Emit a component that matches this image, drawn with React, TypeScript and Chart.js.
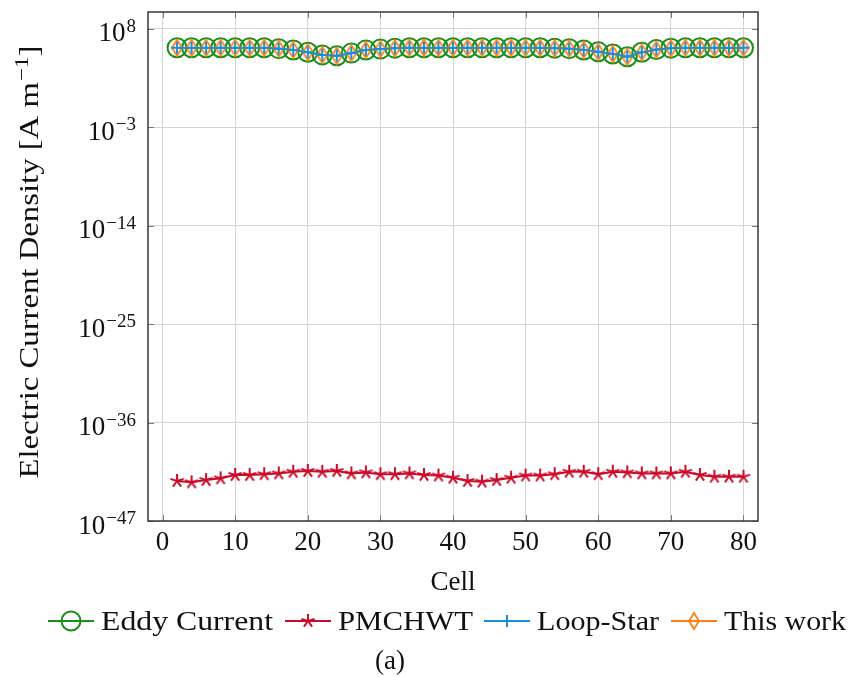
import React, { useEffect, useRef } from "react";
import { Chart, registerables } from "chart.js";

Chart.register(...registerables);

const cells = [2, 4, 6, 8, 10, 12, 14, 16, 18, 20, 22, 24, 26, 28, 30, 32, 34, 36, 38, 40, 42, 44, 46, 48, 50, 52, 54, 56, 58, 60, 62, 64, 66, 68, 70, 72, 74, 76, 78, 80];

const eddyCurrent = [7.9e5, 7.9e5, 7.9e5, 7.9e5, 7.9e5, 7.9e5, 7.9e5, 6.3e5, 4.5e5, 2.5e5, 1.26e5, 1.0e5, 2.0e5, 4.5e5, 5.6e5, 7.1e5, 7.9e5, 7.9e5, 7.9e5, 7.9e5, 7.9e5, 7.9e5, 7.9e5, 7.9e5, 7.9e5, 7.9e5, 7.1e5, 6.3e5, 4.5e5, 2.8e5, 1.6e5, 7.9e4, 2.5e5, 5.0e5, 7.1e5, 7.9e5, 7.9e5, 7.9e5, 7.9e5, 7.9e5];

const pmchwt = [3.0e-43, 2.1e-43, 3.8e-43, 5.9e-43, 1.4e-42, 1.4e-42, 1.7e-42, 2.1e-42, 3.2e-42, 3.9e-42, 3.2e-42, 3.9e-42, 2.1e-42, 2.7e-42, 1.7e-42, 1.7e-42, 2.1e-42, 1.4e-42, 1.2e-42, 6.9e-43, 3.0e-43, 2.5e-43, 3.8e-43, 6.9e-43, 1.2e-42, 1.2e-42, 1.7e-42, 3.2e-42, 3.2e-42, 1.7e-42, 3.2e-42, 2.7e-42, 2.1e-42, 2.1e-42, 2.1e-42, 3.2e-42, 1.4e-42, 8.9e-43, 8.9e-43, 8.9e-43];

const loopStar = [7.9e5, 7.9e5, 7.9e5, 7.9e5, 7.9e5, 7.9e5, 7.9e5, 6.3e5, 4.5e5, 2.5e5, 1.26e5, 1.0e5, 2.0e5, 4.5e5, 5.6e5, 7.1e5, 7.9e5, 7.9e5, 7.9e5, 7.9e5, 7.9e5, 7.9e5, 7.9e5, 7.9e5, 7.9e5, 7.9e5, 7.1e5, 6.3e5, 4.5e5, 2.8e5, 1.6e5, 7.9e4, 2.5e5, 5.0e5, 7.1e5, 7.9e5, 7.9e5, 7.9e5, 7.9e5, 7.9e5];

const thisWork = [7.9e5, 7.9e5, 7.9e5, 7.9e5, 7.9e5, 7.9e5, 7.9e5, 6.3e5, 4.5e5, 2.5e5, 1.26e5, 1.0e5, 2.0e5, 4.5e5, 5.6e5, 7.1e5, 7.9e5, 7.9e5, 7.9e5, 7.9e5, 7.9e5, 7.9e5, 7.9e5, 7.9e5, 7.9e5, 7.9e5, 7.1e5, 6.3e5, 4.5e5, 2.8e5, 1.6e5, 7.9e4, 2.5e5, 5.0e5, 7.1e5, 7.9e5, 7.9e5, 7.9e5, 7.9e5, 7.9e5];

const xTicks = [0, 10, 20, 30, 40, 50, 60, 70, 80];
const yTickExponents = [-47, -36, -25, -14, -3, 8];
const yTicks = [1e-47, 1e-36, 1e-25, 1e-14, 1e-3, 1e8];

const seriesLabels = ["Eddy Current", "PMCHWT", "Loop-Star", "This work"];
const xTitle = "Cell";
const yTitleMain = "Electric Current Density [A m";
const yTitleSup = "\u22121";
const yTitleEnd = "]";
const caption = "(a)";

const GREEN = "#1c8c1c";
const RED = "#cc0a28";
const BLUE = "#1a8ed6";
const ORANGE = "#ff8010";

const FONT = '"Liberation Serif", "DejaVu Serif", serif';

function makeStar(color: string, r: number, lw: number) {
  const c = document.createElement("canvas");
  const s = Math.ceil(2 * (r + lw)) + 2;
  c.width = s;
  c.height = s;
  const ctx = c.getContext("2d")!;
  ctx.strokeStyle = color;
  ctx.lineWidth = lw;
  ctx.lineCap = "butt";
  const cx = s / 2;
  const cy = s / 2;
  ctx.beginPath();
  for (let k = 0; k < 5; k++) {
    const a = -Math.PI / 2 + (k * 2 * Math.PI) / 5;
    ctx.moveTo(cx, cy);
    ctx.lineTo(cx + r * Math.cos(a), cy + r * Math.sin(a));
  }
  ctx.stroke();
  return c;
}

function makeDiamond(color: string, hw: number, hh: number, lw: number) {
  const c = document.createElement("canvas");
  const w = Math.ceil(2 * hw + 2 * lw) + 2;
  const h = Math.ceil(2 * hh + 2 * lw) + 2;
  c.width = w;
  c.height = h;
  const ctx = c.getContext("2d")!;
  ctx.strokeStyle = color;
  ctx.lineWidth = lw;
  ctx.lineJoin = "miter";
  const cx = w / 2;
  const cy = h / 2;
  ctx.beginPath();
  ctx.moveTo(cx, cy - hh);
  ctx.lineTo(cx + hw, cy);
  ctx.lineTo(cx, cy + hh);
  ctx.lineTo(cx - hw, cy);
  ctx.closePath();
  ctx.stroke();
  return c;
}

function drawFitText(ctx: CanvasRenderingContext2D, text: string, x: number, y: number, target: number) {
  const w = ctx.measureText(text).width;
  const sx = target / w;
  ctx.save();
  ctx.translate(x, y);
  ctx.scale(sx, 1);
  ctx.fillText(text, 0, 0);
  ctx.restore();
}

export default function App() {
  const ref = useRef<HTMLCanvasElement | null>(null);

  useEffect(() => {
    document.body.style.margin = "0";
    const canvas = ref.current!;
    const starImg = makeStar(RED, 7, 2);
    const diamondImg = makeDiamond(ORANGE, 5, 8, 1.8);

    const overlay = {
      id: "overlay",
      afterDraw(chart: any) {
        const ctx: CanvasRenderingContext2D = chart.ctx;
        const area = chart.chartArea;
        const xs = chart.scales.x;
        const ys = chart.scales.y;
        ctx.save();

        // tick marks (inside)
        ctx.strokeStyle = "#7a7a7a";
        ctx.lineWidth = 1;
        ctx.beginPath();
        for (const t of xTicks) {
          const px = Math.round(xs.getPixelForValue(t)) + 0.5;
          ctx.moveTo(px, area.bottom);
          ctx.lineTo(px, area.bottom - 6);
          ctx.moveTo(px, area.top);
          ctx.lineTo(px, area.top + 6);
        }
        for (const t of yTicks) {
          const py = Math.round(ys.getPixelForValue(t)) + 0.5;
          ctx.moveTo(area.left, py);
          ctx.lineTo(area.left + 6, py);
          ctx.moveTo(area.right, py);
          ctx.lineTo(area.right - 6, py);
        }
        ctx.stroke();

        // frame
        ctx.strokeStyle = "#2a2a2a";
        ctx.lineWidth = 1.4;
        ctx.strokeRect(area.left, area.top, area.right - area.left, area.bottom - area.top);

        ctx.fillStyle = "#111";
        // x tick labels
        ctx.font = `27px ${FONT}`;
        ctx.textAlign = "center";
        ctx.textBaseline = "alphabetic";
        for (const t of xTicks) {
          ctx.fillText(String(t), xs.getPixelForValue(t), 550);
        }

        // y tick labels: 10^e
        yTicks.forEach((t, i) => {
          const py = ys.getPixelForValue(t);
          const e = yTickExponents[i];
          const sup = e < 0 ? "\u2212" + String(-e) : String(e);
          ctx.font = `19px ${FONT}`;
          const sw = ctx.measureText(sup).width;
          ctx.textAlign = "left";
          const right = 136;
          ctx.fillText(sup, right - sw, py + 3);
          ctx.font = `27px ${FONT}`;
          const bw = ctx.measureText("10").width;
          ctx.fillText("10", right - sw - bw - 1, py + 12.5);
        });

        // x title
        ctx.font = `27px ${FONT}`;
        ctx.textAlign = "center";
        ctx.fillText(xTitle, (area.left + area.right) / 2, 590);

        // y title (rotated)
        ctx.save();
        ctx.translate(38, 262);
        ctx.rotate(-Math.PI / 2);
        ctx.font = `27px ${FONT}`;
        const mw = ctx.measureText(yTitleMain).width;
        const ew = ctx.measureText(yTitleEnd).width;
        ctx.font = `19px ${FONT}`;
        const supw = ctx.measureText(yTitleSup).width;
        const total = mw + supw + 1 + ew;
        const target = 433;
        const sx = target / total;
        ctx.scale(sx, 1);
        ctx.textAlign = "left";
        let cx = -total / 2;
        ctx.font = `27px ${FONT}`;
        ctx.fillText(yTitleMain, cx, 0);
        cx += mw + 1;
        ctx.font = `19px ${FONT}`;
        ctx.fillText(yTitleSup, cx, -10);
        cx += supw;
        ctx.font = `27px ${FONT}`;
        ctx.fillText(yTitleEnd, cx, 0);
        ctx.restore();

        // legend
        const legendY = 621;
        const lineStarts = [48, 285, 484, 671];
        const textTargets = [172, 135, 122, 122];
        const colors = [GREEN, RED, BLUE, ORANGE];
        ctx.font = `27px ${FONT}`;
        ctx.textAlign = "left";
        seriesLabels.forEach((label, i) => {
          const x0 = lineStarts[i];
          const x1 = x0 + 46;
          const mid = (x0 + x1) / 2;
          ctx.strokeStyle = colors[i];
          ctx.lineWidth = 1.8;
          ctx.beginPath();
          ctx.moveTo(x0, legendY);
          ctx.lineTo(x1, legendY);
          ctx.stroke();
          if (i === 0) {
            ctx.lineWidth = 2;
            ctx.beginPath();
            ctx.arc(mid, legendY, 9.5, 0, Math.PI * 2);
            ctx.stroke();
          } else if (i === 1) {
            ctx.drawImage(starImg, mid - starImg.width / 2, legendY - starImg.height / 2);
          } else if (i === 2) {
            ctx.lineWidth = 2;
            ctx.beginPath();
            ctx.moveTo(mid, legendY - 6);
            ctx.lineTo(mid, legendY + 6);
            ctx.stroke();
          } else {
            ctx.drawImage(diamondImg, mid - diamondImg.width / 2, legendY - diamondImg.height / 2);
          }
          ctx.fillStyle = "#111";
          drawFitText(ctx, label, x1 + 7, legendY + 9, textTargets[i]);
        });

        // caption
        ctx.textAlign = "center";
        ctx.fillText(caption, 390, 669);

        ctx.restore();
      },
    };

    const chart = new Chart(canvas, {
      type: "line",
      data: {
        datasets: [
          {
            label: seriesLabels[0],
            data: cells.map((c, i) => ({ x: c, y: eddyCurrent[i] })),
            borderColor: GREEN,
            backgroundColor: "transparent",
            borderWidth: 1.8,
            pointStyle: "circle",
            pointRadius: 9.5,
            pointBorderWidth: 2,
            pointBorderColor: GREEN,
            pointBackgroundColor: "transparent",
            order: 4,
          },
          {
            label: seriesLabels[1],
            data: cells.map((c, i) => ({ x: c, y: pmchwt[i] })),
            borderColor: RED,
            backgroundColor: "transparent",
            borderWidth: 2,
            pointStyle: starImg as any,
            order: 3,
          },
          {
            label: seriesLabels[2],
            data: cells.map((c, i) => ({ x: c, y: loopStar[i] })),
            borderColor: BLUE,
            backgroundColor: "transparent",
            borderWidth: 1.8,
            pointStyle: "cross",
            pointRadius: 6,
            pointBorderWidth: 2,
            pointBorderColor: BLUE,
            order: 1,
          },
          {
            label: seriesLabels[3],
            data: cells.map((c, i) => ({ x: c, y: thisWork[i] })),
            borderColor: ORANGE,
            backgroundColor: "transparent",
            borderWidth: 1.8,
            pointStyle: diamondImg as any,
            order: 2,
          },
        ],
      },
      options: {
        animation: false,
        responsive: false,
        maintainAspectRatio: false,
        layout: { padding: { top: 12, right: 93, left: 0, bottom: 0 } },
        plugins: {
          legend: { display: false },
          tooltip: { enabled: false },
          title: { display: false },
        },
        scales: {
          x: {
            type: "linear",
            min: -2,
            max: 82,
            afterBuildTicks: (s: any) => {
              s.ticks = xTicks.map((v) => ({ value: v }));
            },
            afterFit: (s: any) => {
              s.height = 156;
            },
            ticks: { display: false },
            grid: { color: "#d4d4d4", lineWidth: 1, drawTicks: false },
            border: { display: false },
          },
          y: {
            type: "logarithmic",
            min: 1e-47,
            max: 7.9e9,
            afterBuildTicks: (s: any) => {
              s.ticks = yTicks.map((v) => ({ value: v }));
            },
            afterFit: (s: any) => {
              s.width = 148;
            },
            ticks: { display: false },
            grid: { color: "#d4d4d4", lineWidth: 1, drawTicks: false },
            border: { display: false },
          },
        },
      },
      plugins: [overlay],
    });

    return () => chart.destroy();
  }, []);

  return (
    <div style={{ width: 851, height: 677, background: "#fff" }}>
      <canvas ref={ref} width={851} height={677} style={{ width: 851, height: 677, display: "block" }} />
    </div>
  );
}
